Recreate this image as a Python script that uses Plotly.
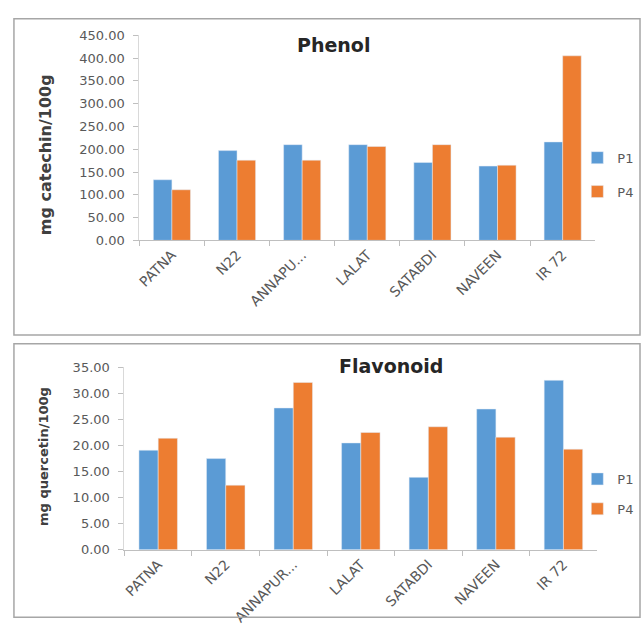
import plotly.graph_objects as go

# Rice varieties
varieties_phenol = ["PATNA", "N22", "ANNAPU...", "LALAT", "SATABDI", "NAVEEN", "IR 72"]
varieties_flav = ["PATNA", "N22", "ANNAPUR...", "LALAT", "SATABDI", "NAVEEN", "IR 72"]

# Total phenol (mg catechin/100g)
phenol_p1 = [133, 197, 210, 210, 171, 163, 216]
phenol_p4 = [111, 176, 176, 206, 210, 165, 405]

# Total flavonoid (mg quercetin/100g)
flav_p1 = [19.1, 17.5, 27.2, 20.5, 13.9, 27.0, 32.5]
flav_p4 = [21.4, 12.4, 32.1, 22.5, 23.6, 21.6, 19.3]

W, H = 641, 635
BLUE = "#5B9BD5"
ORANGE = "#ED7D31"
FONT = "DejaVu Sans"
GREY = "#595959"


def fx(px):
    return px / W


def fy(py):
    return 1 - py / H


fig = go.Figure()

fig.add_trace(go.Bar(x=varieties_phenol, y=phenol_p1, name="P1", marker_color=BLUE,
                     xaxis="x", yaxis="y", legend="legend", legendgroup="a"))
fig.add_trace(go.Bar(x=varieties_phenol, y=phenol_p4, name="P4", marker_color=ORANGE,
                     xaxis="x", yaxis="y", legend="legend", legendgroup="b"))
fig.add_trace(go.Bar(x=varieties_flav, y=flav_p1, name="P1", marker_color=BLUE,
                     xaxis="x2", yaxis="y2", legend="legend2", legendgroup="c"))
fig.add_trace(go.Bar(x=varieties_flav, y=flav_p4, name="P4", marker_color=ORANGE,
                     xaxis="x2", yaxis="y2", legend="legend2", legendgroup="d"))

x_common = dict(showgrid=False, zeroline=False, showline=True, linecolor="#BFBFBF",
                linewidth=1, ticks="outside", tickcolor="#BFBFBF", ticklen=5,
                tickangle=-45, tickson="boundaries",
                tickfont=dict(family=FONT, size=14, color=GREY))
y_common = dict(showgrid=False, zeroline=False, showline=True, linecolor="#D9D9D9",
                linewidth=1, ticks="outside", tickcolor="#BFBFBF", ticklen=5,
                tickformat=".2f", ticklabelstandoff=6,
                tickfont=dict(family=FONT, size=13, color=GREY))

fig.update_layout(
    width=W, height=H,
    margin=dict(l=0, r=0, t=0, b=0),
    paper_bgcolor="white", plot_bgcolor="white",
    barmode="group", bargap=0.43, bargroupgap=0,
    font=dict(family=FONT, color=GREY),
    xaxis=dict(domain=[fx(137), fx(595)], anchor="y", **x_common),
    yaxis=dict(domain=[fy(239), fy(29)], anchor="x", range=[0, 450], dtick=50,
               **y_common),
    xaxis2=dict(domain=[fx(122), fx(597)], anchor="y2", **x_common),
    yaxis2=dict(domain=[fy(556), fy(369)], anchor="x2", range=[0, 35], dtick=5,
                **y_common),
    legend=dict(x=fx(577), y=fy(139), xanchor="left", yanchor="top",
                tracegroupgap=14, font=dict(family=FONT, size=13, color=GREY),
                itemwidth=30, bgcolor="rgba(0,0,0,0)"),
    legend2=dict(x=fx(577), y=fy(468), xanchor="left", yanchor="top",
                 tracegroupgap=10, font=dict(family=FONT, size=13, color=GREY),
                 itemwidth=30, bgcolor="rgba(0,0,0,0)"),
    annotations=[
        dict(text="<b>Phenol</b>", x=fx(332), y=fy(39), xref="paper", yref="paper",
             xanchor="center", yanchor="middle", showarrow=False,
             font=dict(family=FONT, size=19, color="#262626")),
        dict(text="<b>Flavonoid</b>", x=fx(390), y=fy(368), xref="paper", yref="paper",
             xanchor="center", yanchor="middle", showarrow=False,
             font=dict(family=FONT, size=19, color="#262626")),
        dict(text="<b>mg catechin/100g</b>", x=fx(43), y=fy(151), xref="paper",
             yref="paper", xanchor="center", yanchor="middle", textangle=-90,
             showarrow=False, font=dict(family=FONT, size=16, color="#404040")),
        dict(text="<b>mg quercetin/100g</b>", x=fx(40), y=fy(460), xref="paper",
             yref="paper", xanchor="center", yanchor="middle", textangle=-90,
             showarrow=False, font=dict(family=FONT, size=13, color="#404040")),
    ],
    shapes=[
        dict(type="rect", xref="paper", yref="paper", x0=fx(11), x1=fx(640),
             y0=fy(336), y1=fy(12), line=dict(color="#A6A6A6", width=1.5)),
        dict(type="rect", xref="paper", yref="paper", x0=fx(11), x1=fx(640),
             y0=fy(625), y1=fy(345), line=dict(color="#A6A6A6", width=1.5)),
    ],
)

fig.write_html("out.html")
